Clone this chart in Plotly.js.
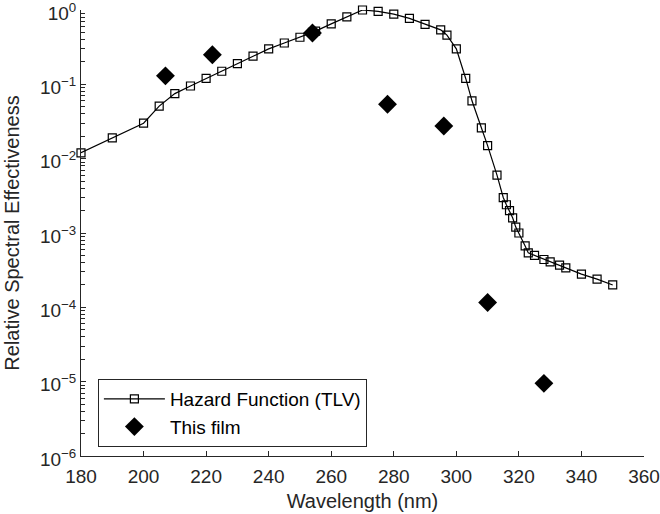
<!DOCTYPE html>
<html>
<head>
<meta charset="utf-8">
<script src="https://cdn.plot.ly/plotly-3.0.1.min.js"></script>
<style>html,body{margin:0;padding:0;background:#fff;}#chart{width:660px;height:514px;}</style>
</head>
<body>
<div id="chart"></div>
<script>
// Hazard function (TLV)
var tlvWavelength = [180,190,200,205,210,215,220,225,230,235,240,245,250,254,255,260,265,270,275,280,285,290,295,297,300,303,305,308,310,313,315,316,317,318,319,320,322,323,325,328,330,333,335,340,345,350];
var tlvValue = [0.012,0.019,0.030,0.051,0.075,0.095,0.120,0.150,0.190,0.240,0.300,0.360,0.430,0.500,0.520,0.650,0.810,1.000,0.960,0.880,0.770,0.640,0.540,0.460,0.300,0.120,0.060,0.026,0.015,0.006,0.003,0.0024,0.0020,0.0016,0.0012,0.0010,0.00067,0.00054,0.00050,0.00044,0.00041,0.00037,0.00034,0.00028,0.00024,0.00020];
// This film
var filmWavelength = [207,222,254,278,296,310,328];
var filmValue = [0.13,0.25,0.49,0.054,0.0275,0.000116,0.0000095];
// Axis ticks
var yTickVals = [1e-6,1e-5,1e-4,1e-3,1e-2,1e-1,1];
var yTickText = ['10<sup>\u22126</sup>','10<sup>\u22125</sup>','10<sup>\u22124</sup>','10<sup>\u22123</sup>','10<sup>\u22122</sup>','10<sup>\u22121</sup>','10<sup>0</sup>'];
var seriesNames = ['Hazard Function (TLV)','This film'];

var axisColor = '#262626';
var fontFam = '"Liberation Sans", Arial, Helvetica, sans-serif';

var traces = [
  {
    x: tlvWavelength, y: tlvValue, name: seriesNames[0],
    type: 'scatter', mode: 'lines+markers', cliponaxis: false,
    line: {color: '#000', width: 1.2},
    marker: {symbol: 'square-open', size: 8, color: '#000', line: {width: 1.2, color: '#000'}}
  },
  {
    x: filmWavelength, y: filmValue, name: seriesNames[1],
    type: 'scatter', mode: 'markers', cliponaxis: false,
    marker: {symbol: 'diamond', size: 14.5, color: '#000', line: {width: 0}}
  }
];

var layout = {
  width: 660, height: 514,
  margin: {l: 81, r: 16, t: 10, b: 58},
  paper_bgcolor: '#fff', plot_bgcolor: '#fff',
  font: {family: fontFam, size: 19, color: '#262626'},
  showlegend: true,
  legend: {
    x: 0.03, y: 0.1726, xanchor: 'left', yanchor: 'top',
    bordercolor: axisColor, borderwidth: 1, bgcolor: '#fff',
    font: {family: fontFam, size: 19, color: '#000'},
    itemwidth: 61, tracegroupgap: 0
  },
  xaxis: {
    range: [180, 360], dtick: 20, tick0: 180,
    showline: true, linecolor: axisColor, linewidth: 1,
    ticks: 'inside', ticklen: 5, tickcolor: axisColor,
    ticklabelstandoff: 3, ticklabeloverflow: 'allow',
    showgrid: false, zeroline: false, mirror: false,
    tickfont: {family: fontFam, size: 19, color: '#262626'},
    title: {text: 'Wavelength (nm)', font: {family: fontFam, size: 20, color: '#262626'}, standoff: 8}
  },
  yaxis: {
    type: 'log', range: [-6, 0],
    tickmode: 'array', tickvals: yTickVals, ticktext: yTickText,
    showline: true, linecolor: axisColor, linewidth: 1,
    ticks: 'inside', ticklen: 5, tickcolor: axisColor,
    ticklabeloverflow: 'allow', ticklabelshift: 3,
    minor: {ticks: 'inside', ticklen: 4, tickcolor: axisColor, dtick: 'D1', showgrid: false},
    showgrid: false, zeroline: false, mirror: false,
    tickfont: {family: fontFam, size: 19, color: '#262626'},
    title: {text: 'Relative Spectral Effectiveness', font: {family: fontFam, size: 20, color: '#262626'}, standoff: 14}
  }
};

Plotly.newPlot('chart', traces, layout, {displayModeBar: false, staticPlot: true});
</script>
</body>
</html>
